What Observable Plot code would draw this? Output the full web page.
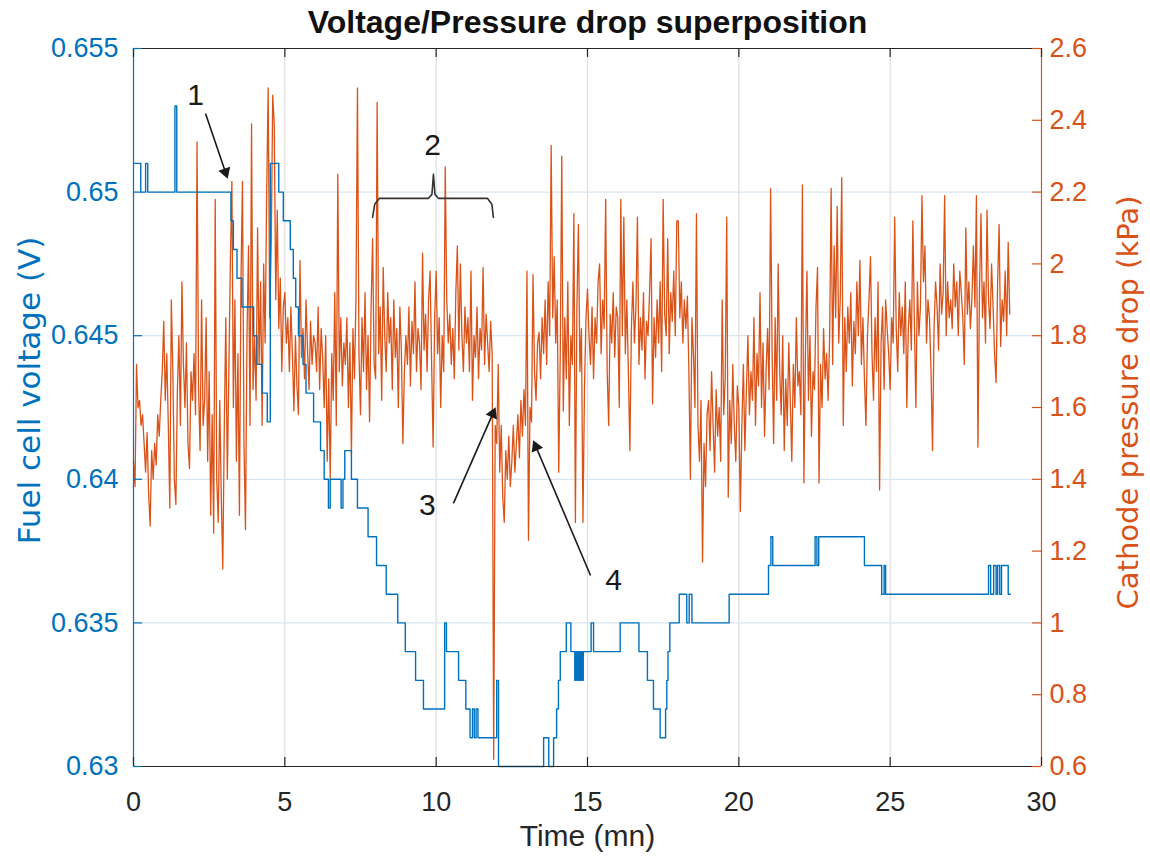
<!DOCTYPE html>
<html>
<head>
<meta charset="utf-8">
<script src="https://cdn.jsdelivr.net/npm/d3@7"></script>
<script src="https://cdn.jsdelivr.net/npm/@observablehq/plot@0.6"></script>
<style>
  html, body { margin: 0; padding: 0; background: #ffffff; }
  #chart { width: 1150px; height: 857px; }
</style>
</head>
<body>
<div id="chart"></div>
<script>
// ---------------- data ----------------
const chartTitle = "Voltage/Pressure drop superposition";
const xLabel = "Time (mn)";
const leftLabel = "Fuel cell voltage (V)";
const rightLabel = "Cathode pressure drop (kPa)";

const timeTicks = [0, 5, 10, 15, 20, 25, 30];
const voltageTicks = [0.63, 0.635, 0.64, 0.645, 0.65, 0.655];
const voltageTickLabels = ["0.63", "0.635", "0.64", "0.645", "0.65", "0.655"];
const pressureTicks = [0.6, 0.8, 1.0, 1.2, 1.4, 1.6, 1.8, 2.0, 2.2, 2.4, 2.6];
const pressureTickLabels = ["0.6", "0.8", "1", "1.2", "1.4", "1.6", "1.8", "2", "2.2", "2.4", "2.6"];

// Fuel cell voltage (V): step changes (time in min, value)
const voltageTimes = [0, 0.24, 0.40, 0.47, 1.37, 1.43, 3.22, 3.30, 3.42, 3.58, 3.97, 4.08, 4.25, 4.42, 4.52, 4.80, 4.95, 5.18, 5.28, 5.36, 5.45, 5.60, 5.70, 5.95, 6.18, 6.30, 6.44, 6.50, 6.86, 6.92, 6.98, 7.20, 7.40, 7.75, 8.03, 8.35, 8.73, 8.98, 9.32, 9.58, 10.28, 10.34, 10.74, 10.98, 11.12, 11.20, 11.26, 11.32, 11.38, 12.00, 12.06, 13.55, 13.72, 13.88, 13.98, 14.04, 14.10, 14.30, 14.45, 14.58, 14.62, 14.66, 14.70, 14.74, 14.78, 14.82, 14.86, 15.12, 15.20, 16.08, 16.70, 16.98, 17.18, 17.40, 17.58, 17.62, 17.66, 17.72, 18.03, 18.28, 18.36, 18.45, 19.68, 20.98, 21.06, 21.12, 22.52, 22.58, 22.64, 24.15, 24.72, 24.80, 24.85, 28.25, 28.32, 28.42, 28.50, 28.55, 28.62, 28.68, 28.90, 28.97];
const voltageValues = [0.651, 0.650, 0.651, 0.650, 0.653, 0.650, 0.649, 0.648, 0.647, 0.646, 0.645, 0.644, 0.643, 0.642, 0.651, 0.650, 0.649, 0.648, 0.647, 0.646, 0.645, 0.644, 0.643, 0.642, 0.641, 0.640, 0.639, 0.640, 0.639, 0.640, 0.641, 0.640, 0.639, 0.638, 0.637, 0.636, 0.635, 0.634, 0.633, 0.632, 0.635, 0.634, 0.633, 0.632, 0.631, 0.632, 0.631, 0.632, 0.631, 0.633, 0.630, 0.631, 0.630, 0.631, 0.632, 0.633, 0.634, 0.635, 0.634, 0.633, 0.634, 0.633, 0.634, 0.633, 0.634, 0.633, 0.634, 0.635, 0.634, 0.635, 0.634, 0.633, 0.632, 0.631, 0.632, 0.633, 0.634, 0.635, 0.636, 0.635, 0.636, 0.635, 0.636, 0.637, 0.638, 0.637, 0.638, 0.637, 0.638, 0.637, 0.636, 0.637, 0.636, 0.637, 0.636, 0.637, 0.636, 0.637, 0.636, 0.637, 0.636, 0.636];

// Cathode pressure drop (kPa): sampled every 0.05 min from t = 0
const pressureStart = 0;
const pressureStep = 0.05;
const pressureValues = [
  // 0 min
  1.45, 1.38, 1.72, 1.60, 1.62, 1.55, 1.58, 1.50, 1.42, 1.53, 1.36, 1.27, 1.48, 1.40, 1.50, 1.44, 1.58, 1.52, 1.62, 1.70,
  // 1 min
  1.84, 1.62, 1.75, 1.55, 1.32, 1.90, 1.70, 1.40, 1.33, 1.65, 1.80, 1.55, 1.95, 1.72, 1.60, 1.78, 1.50, 1.43, 1.70, 1.62,
  // 2 min
  1.75, 1.58, 2.34, 1.65, 1.48, 1.90, 1.55, 1.62, 1.85, 1.45, 1.70, 1.30, 1.58, 1.25, 2.18, 1.40, 1.28, 1.62, 1.35, 1.15,
  // 3 min
  1.55, 1.85, 1.40, 1.70, 2.00, 2.23, 1.60, 1.90, 1.45, 1.75, 1.30, 1.95, 2.23, 1.50, 1.26, 1.80, 2.05, 1.55, 2.39, 1.65,
  // 4 min
  1.80, 1.62, 2.10, 1.72, 1.95, 1.55, 2.00, 1.78, 2.20, 2.49, 1.85, 2.05, 2.47, 2.39, 1.90, 2.15, 1.82, 1.96, 1.70, 1.88,
  // 5 min
  1.92, 1.78, 1.85, 1.70, 1.88, 1.75, 1.59, 1.80, 1.66, 1.58, 2.01, 1.74, 1.82, 1.68, 1.90, 1.76, 1.65, 1.84, 1.72, 1.80,
  // 6 min
  1.78, 1.70, 1.88, 1.65, 1.82, 1.74, 1.60, 1.80, 1.45, 1.68, 1.40, 1.75, 1.62, 1.92, 1.55, 2.25, 1.70, 1.85, 1.66, 1.78,
  // 7 min
  1.72, 1.85, 1.60, 1.78, 1.47, 1.82, 1.68, 1.90, 2.49, 1.75, 1.58, 1.85, 1.70, 1.92, 1.65, 1.80, 1.56, 1.88, 2.07, 1.72,
  // 8 min
  1.68, 2.45, 1.75, 1.88, 1.62, 1.99, 1.80, 1.70, 1.92, 1.78, 1.85, 1.65, 1.90, 1.74, 1.82, 1.60, 1.88, 1.76, 1.50, 1.70,
  // 9 min
  1.80, 1.72, 1.88, 1.66, 1.84, 1.75, 1.95, 1.70, 1.82, 1.78, 1.65, 2.03, 1.76, 1.86, 1.70, 1.90, 1.98, 1.72, 1.49, 1.85,
  // 10 min
  1.98, 1.75, 1.85, 1.60, 1.80, 1.70, 2.27, 1.90, 1.78, 1.86, 1.72, 1.82, 1.68, 1.92, 2.05, 1.76, 2.00, 1.80, 1.70, 1.88,
  // 11 min
  1.78, 1.85, 1.70, 1.98, 1.62, 1.80, 1.74, 1.88, 1.68, 1.82, 1.76, 1.99, 1.72, 1.86, 1.78, 1.70, 1.84, 1.75, 0.62, 1.55,
  // 12 min
  1.50, 1.72, 1.42, 1.55, 1.35, 1.28, 1.48, 1.40, 1.52, 1.38, 1.45, 1.55, 1.42, 1.50, 1.58, 1.46, 1.62, 1.52, 1.65, 1.55,
  // 13 min
  1.98, 1.23, 1.60, 1.56, 1.97, 1.70, 1.62, 1.78, 1.81, 1.68, 1.85, 1.75, 1.90, 1.72, 1.95, 1.80, 2.33, 1.85, 2.02, 1.78,
  // 14 min
  1.90, 1.42, 1.75, 2.30, 1.59, 1.85, 1.68, 1.95, 1.55, 1.80, 1.72, 2.14, 1.28, 1.88, 2.11, 1.70, 1.82, 1.28, 1.65, 1.85,
  // 15 min
  1.93, 1.80, 1.72, 1.88, 1.68, 1.85, 1.78, 1.95, 2.00, 1.75, 1.90, 1.82, 2.18, 1.70, 1.55, 1.86, 1.78, 1.92, 1.74, 1.88,
  // 16 min
  1.85, 1.60, 2.18, 1.80, 2.13, 1.75, 1.90, 1.70, 1.48, 1.82, 1.95, 1.78, 1.88, 2.13, 1.72, 1.85, 1.76, 1.92, 1.68, 1.84,
  // 17 min
  1.80, 1.92, 2.07, 1.61, 1.85, 1.74, 1.90, 1.78, 1.95, 1.70, 2.18, 1.86, 1.80, 2.07, 1.75, 1.92, 1.84, 1.98, 1.80, 2.12,
  // 18 min
  2.12, 1.85, 1.95, 1.78, 1.90, 1.82, 1.91, 1.70, 1.40, 1.85, 1.75, 1.60, 2.14, 1.55, 1.45, 1.62, 1.17, 1.50, 1.38, 1.58,
  // 19 min
  1.62, 1.48, 1.70, 1.55, 1.42, 1.65, 1.52, 1.60, 1.45, 1.90, 1.58, 1.68, 2.13, 1.35, 1.62, 1.50, 1.72, 1.55, 1.45, 1.66,
  // 20 min
  1.60, 1.31, 1.55, 1.72, 1.48, 1.65, 1.80, 1.58, 1.70, 1.62, 1.85, 1.55, 1.75, 1.66, 1.92, 1.60, 1.78, 1.52, 1.70, 1.82,
  // 21 min
  1.65, 2.21, 1.75, 1.50, 1.85, 1.62, 2.00, 1.70, 1.58, 1.80, 1.48, 1.68, 1.55, 1.78, 1.62, 1.45, 1.72, 1.60, 1.85, 1.66,
  // 22 min
  1.70, 1.58, 2.22, 1.39, 1.75, 1.98, 1.62, 1.80, 1.52, 1.70, 1.65, 1.88, 1.99, 1.39, 1.72, 1.60, 1.82, 1.68, 1.75, 1.62,
  // 23 min
  1.80, 2.21, 1.72, 2.05, 1.85, 2.16, 1.78, 1.90, 2.24, 1.55, 1.85, 1.70, 1.88, 1.78, 1.92, 1.66, 1.84, 1.75, 1.95, 1.80,
  // 24 min
  2.01, 1.72, 1.85, 1.68, 1.55, 1.80, 1.90, 2.02, 1.75, 1.62, 1.85, 1.70, 1.95, 1.37, 1.78, 1.88, 1.65, 1.90, 1.82, 1.75,
  // 25 min
  1.65, 1.85, 1.78, 2.13, 1.82, 1.70, 1.92, 1.80, 1.88, 1.75, 1.95, 1.60, 1.82, 1.90, 1.76, 2.12, 1.84, 1.60, 1.95, 1.80,
  // 26 min
  1.88, 2.19, 1.95, 2.05, 1.78, 1.90, 1.85, 1.70, 1.48, 1.82, 1.95, 1.88, 1.76, 2.00, 1.86, 1.92, 2.19, 1.80, 1.95, 1.85,
  // 27 min
  1.90, 1.82, 2.00, 1.88, 1.95, 1.80, 1.98, 1.92, 1.85, 1.72, 2.10, 1.86, 1.95, 1.82, 1.90, 2.05, 1.88, 2.19, 1.49, 1.92,
  // 28 min
  2.14, 1.85, 1.95, 1.78, 2.15, 1.90, 1.82, 2.00, 1.88, 1.75, 1.67, 1.95, 2.11, 1.77, 1.90, 1.84, 1.98, 1.80, 2.06, 1.86
];

// Annotations (time in min, left-axis voltage)
const annotationLabels = ["1", "2", "3", "4"];
const annotationT = [2.05, 9.88, 9.71, 15.86];
const annotationV = [0.65336, 0.65162, 0.63909, 0.63648];
const arrowFromT = [2.38, 10.57, 15.10];
const arrowFromV = [0.65274, 0.63916, 0.63665];
const arrowToT = [3.11, 11.96, 13.21];
const arrowToV = [0.65047, 0.64250, 0.64135];
const braceT = [7.90, 7.97, 8.12, 9.74, 9.86, 9.91, 9.96, 10.08, 11.70, 11.84, 11.89];
const braceV = [0.64912, 0.64958, 0.64978, 0.64978, 0.64992, 0.65062, 0.64992, 0.64978, 0.64978, 0.64958, 0.64912];

// ---------------- chart ----------------
const blue = "#0072BD";
const orange = "#D95319";
const axisDark = "#262626";
const tDomain = [0, 30];
const vDomain = [0.63, 0.655];
const pDomain = [0.6, 2.6];
const pToV = d3.scaleLinear().domain(pDomain).range(vDomain);

const W = 1150, H = 857;
const mL = 133, mR = 109, mT = 48, mB = 91;
const frameW = W - mL - mR, frameH = H - mT - mB;
// pixels per data unit (used only to orient arrow heads)
const pxPerT = frameW / (tDomain[1] - tDomain[0]);
const pxPerV = frameH / (vDomain[1] - vDomain[0]);
const headR = 4.6;                 // triangle symbol radius
const headBack = headR * 1.5;      // centroid distance behind the tip (px)

const voltage = voltageTimes.map((t, i) => ({t, v: voltageValues[i]}));
const pressure = pressureValues.map((p, i) => ({t: pressureStart + i * pressureStep, v: pToV(p)}));
const gridT = timeTicks.slice(1, -1);
const gridV = voltageTicks.slice(1, -1);
const rightTicks = pressureTicks.map((p, i) => ({v: pToV(p), label: pressureTickLabels[i]}));
const leftTicks = voltageTicks.map((v, i) => ({v, label: voltageTickLabels[i]}));
const annos = annotationLabels.map((label, i) => ({label, t: annotationT[i], v: annotationV[i]}));
const arrows = arrowFromT.map((t, i) => {
  const sx = (arrowToT[i] - t) * pxPerT;
  const sy = -(arrowToV[i] - arrowFromV[i]) * pxPerV;
  const len = Math.hypot(sx, sy);
  const ux = sx / len, uy = sy / len;
  return {
    x1: t, y1: arrowFromV[i], x2: arrowToT[i], y2: arrowToV[i],
    hx: arrowToT[i] - headBack * ux / pxPerT,
    hy: arrowToV[i] + headBack * uy / pxPerV,
    angle: Math.atan2(ux, -uy) * 180 / Math.PI
  };
});
const brace = braceT.map((t, i) => ({t, v: braceV[i]}));

const font = "'Liberation Sans', Arial, Helvetica, sans-serif";

const chart = Plot.plot({
  width: W, height: H,
  marginLeft: mL, marginRight: mR, marginTop: mT, marginBottom: mB,
  x: {domain: tDomain, axis: null},
  y: {domain: vDomain, axis: null},
  style: {fontFamily: font, background: "#ffffff", overflow: "visible"},
  marks: [
    Plot.ruleX(gridT, {x: d => d, stroke: "#dedede", strokeWidth: 1.2}),
    Plot.ruleY(gridV, {y: d => d, stroke: "#d8e6f2", strokeWidth: 1.2}),
    Plot.line(pressure, {x: "t", y: "v", stroke: orange, strokeWidth: 1.3}),
    Plot.line(voltage, {x: "t", y: "v", curve: "step-after", stroke: blue, strokeWidth: 1.4}),
    // box
    Plot.ruleY([vDomain[1]], {y: d => d, stroke: axisDark, strokeWidth: 1.2}),
    Plot.ruleY([vDomain[0]], {y: d => d, stroke: axisDark, strokeWidth: 1.2}),
    Plot.ruleX([tDomain[0]], {x: d => d, stroke: blue, strokeWidth: 1.2}),
    Plot.ruleX([tDomain[1]], {x: d => d, stroke: orange, strokeWidth: 1.2}),
    // ticks
    Plot.tickX(timeTicks, {x: d => d, insetBottom: frameH - 9, stroke: axisDark, strokeWidth: 1.2}),
    Plot.tickX(timeTicks, {x: d => d, insetTop: frameH - 9, stroke: axisDark, strokeWidth: 1.2}),
    Plot.tickY(voltageTicks, {y: d => d, insetRight: frameW - 9, stroke: blue, strokeWidth: 1.2}),
    Plot.tickY(rightTicks, {y: "v", insetLeft: frameW - 9, stroke: orange, strokeWidth: 1.2}),
    // tick labels
    Plot.text(timeTicks, {x: d => d, frameAnchor: "bottom", lineAnchor: "middle", dy: 36, text: d => String(d), fill: axisDark, fontSize: 27}),
    Plot.text(leftTicks, {y: "v", frameAnchor: "left", lineAnchor: "middle", dx: -15, textAnchor: "end", text: "label", fill: blue, fontSize: 27}),
    Plot.text(rightTicks, {y: "v", frameAnchor: "right", lineAnchor: "middle", dx: 8, textAnchor: "start", text: "label", fill: orange, fontSize: 27}),
    // titles
    Plot.text([chartTitle], {frameAnchor: "top", lineAnchor: "middle", dy: -26, text: d => d, fill: "#111", fontSize: 32, fontWeight: "bold"}),
    Plot.text([xLabel], {frameAnchor: "bottom", lineAnchor: "middle", dy: 70, text: d => d, fill: axisDark, fontSize: 30}),
    Plot.text([leftLabel], {frameAnchor: "left", textAnchor: "middle", lineAnchor: "middle", dx: -103, dy: -17, rotate: -90, text: d => d, fill: blue, fontSize: 31, fontFamily: "'DejaVu Sans', sans-serif"}),
    Plot.text([rightLabel], {frameAnchor: "right", textAnchor: "middle", lineAnchor: "middle", dx: 87, dy: -5, rotate: -90, text: d => d, fill: orange, fontSize: 29, fontFamily: "'DejaVu Sans', sans-serif"}),
    // annotations
    Plot.line(brace, {x: "t", y: "v", stroke: "#333", strokeWidth: 1.6}),
    Plot.link(arrows, {x1: "x1", y1: "y1", x2: "hx", y2: "hy", stroke: "#1a1a1a", strokeWidth: 1.6}),
    Plot.dot(arrows, {x: "hx", y: "hy", symbol: "triangle", r: headR, rotate: "angle", fill: "#1a1a1a", stroke: "none"}),
    Plot.text(annos, {x: "t", y: "v", text: "label", fill: "#1a1a1a", fontSize: 30})
  ]
});
document.getElementById("chart").appendChild(chart);
</script>
</body>
</html>
